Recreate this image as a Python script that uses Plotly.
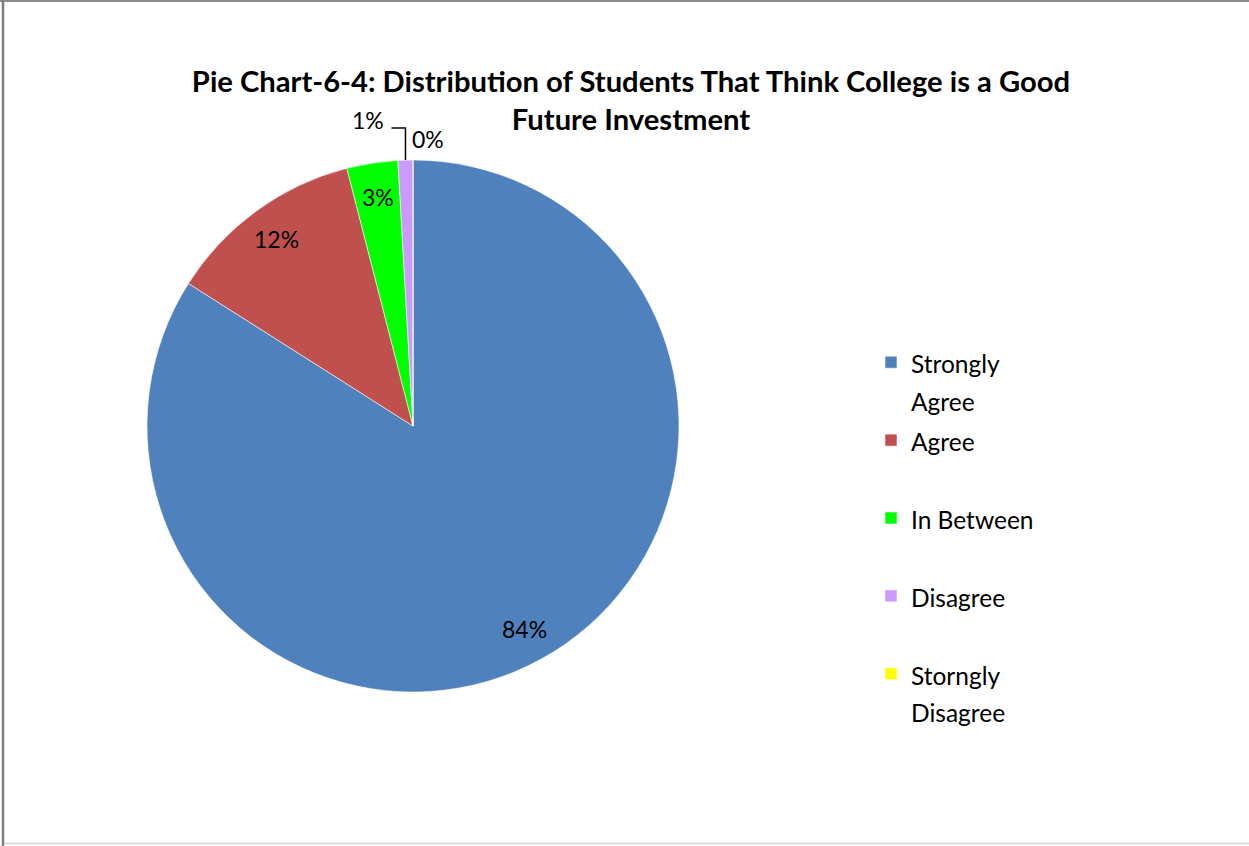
import math
import plotly.graph_objects as go

# ---------------- data ----------------
categories = ["Strongly Agree", "Agree", "In Between", "Disagree", "Storngly Disagree"]
legend_text = ["Strongly<br>Agree", "Agree", "In Between", "Disagree", "Storngly<br>Disagree"]
values = [84.0, 12.0, 3.1, 0.9, 0.0]
colors = ["#4F81BD", "#C0504D", "#00FF00", "#CC99FF", "#FFFF00"]
title_lines = ["Pie Chart-6-4: Distribution of Students That Think College is a Good",
               "Future Investment"]

# ---------------- layout constants ----------------
W, H = 1249, 846
CX, CY, R = 413, 426, 266          # pie centre / radius in pixels
FONT = "Lato"
TXT = 23
LEG_TXT = 24.5
LEG_FONT = 28.8

def px2paper(x, y):
    return x / W, 1 - y / H

# legend labels padded to two lines so the entries are spaced like the original
leg_labels = []
for t in legend_text:
    lines = t.split("<br>")
    while len(lines) < 2:
        lines.append(" ")
    leg_labels.append("<br>".join(f"<span style='font-size:{LEG_TXT}px'>{l}</span>" for l in lines))

fig = go.Figure(go.Pie(
    labels=leg_labels,
    values=values,
    customdata=categories,
    hovertemplate="%{customdata}: %{percent}<extra></extra>",
    marker=dict(colors=colors, line=dict(color="rgba(255,255,255,0.7)", width=0.8)),
    sort=False,
    direction="clockwise",
    rotation=0,
    textinfo="none",
    domain=dict(x=[(CX - R) / W, (CX + R) / W], y=[(H - CY - R) / H, (H - CY + R) / H]),
))

# ---------------- data labels (computed from values) ----------------
annotations = []
shapes = []
total = sum(values)
cum = 0.0
for v in values:
    frac = v / total
    mid = (cum + frac / 2) * 2 * math.pi
    cum += frac
    label = f"{round(frac * 100):.0f}%"
    s, c = math.sin(mid), math.cos(mid)
    if frac >= 0.02:
        x, y = CX + 0.87 * R * s, CY - 0.87 * R * c
        xp, yp = px2paper(x, y)
        annotations.append(dict(x=xp, y=yp, xref="paper", yref="paper", text=label,
                                showarrow=False, xanchor="center", yanchor="middle",
                                font=dict(family=FONT, size=TXT, color="#000000")))
    elif frac > 0:
        x0, y0 = CX + R * s, CY - R * c
        y1 = CY - 1.12 * R
        x2 = x0 - 14
        p0, p1, p2 = px2paper(x0, y0), px2paper(x0, y1), px2paper(x2, y1)
        shapes.append(dict(type="path", xref="paper", yref="paper",
                           path=f"M {p0[0]},{p0[1]} L {p1[0]},{p1[1]} L {p2[0]},{p2[1]}",
                           line=dict(color="#000000", width=1.5)))
        xp, yp = px2paper(x2 - 5, y1 - 8)
        annotations.append(dict(x=xp, y=yp, xref="paper", yref="paper", text=label,
                                showarrow=False, xanchor="right", yanchor="middle",
                                font=dict(family=FONT, size=TXT, color="#000000")))
    else:
        x, y = CX + 1.075 * R * s, CY - 1.075 * R * c
        xp, yp = px2paper(x - 3, y - 1)
        annotations.append(dict(x=xp, y=yp, xref="paper", yref="paper", text=label,
                                showarrow=False, xanchor="left", yanchor="middle",
                                font=dict(family=FONT, size=TXT, color="#000000")))

# ---------------- chart frame ----------------
def seg(x0, y0, x1, y1, color, width):
    a, b = px2paper(x0, y0), px2paper(x1, y1)
    return dict(type="line", xref="paper", yref="paper", x0=a[0], y0=a[1], x1=b[0], y1=b[1],
                line=dict(color=color, width=width))

shapes += [
    seg(0, 1, W, 1, "#8c8c8c", 2),
    seg(3, 0, 3, H, "#7f7f7f", 2.5),
    seg(4, 843.5, W, 843.5, "#d6d6d6", 1.5),
]

fig.update_layout(
    width=W, height=H,
    margin=dict(l=0, r=0, t=0, b=0),
    paper_bgcolor="white",
    plot_bgcolor="white",
    font=dict(family=FONT, size=TXT, color="#000000"),
    title=dict(text="<b>" + "<br>".join(title_lines) + "</b>",
               x=631 / W, xanchor="center", y=1 - 92 / H, yanchor="top", yref="container",
               font=dict(family=FONT, size=29.2, color="#000000")),
    showlegend=True,
    legend=dict(x=871 / W, y=1 - 337 / H, xanchor="left", yanchor="top",
                valign="top", font=dict(family=FONT, size=LEG_FONT, color="#000000"),
                bgcolor="rgba(0,0,0,0)", traceorder="normal"),
    annotations=annotations,
    shapes=shapes,
)

fig.write_html("out.html")
